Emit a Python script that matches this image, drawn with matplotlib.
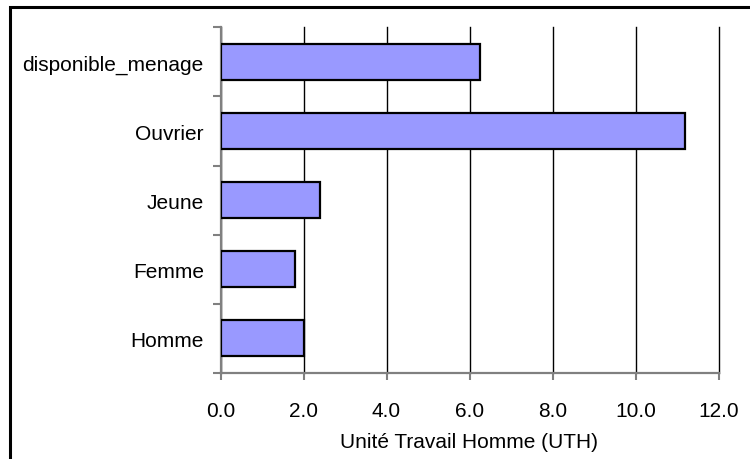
import matplotlib.pyplot as plt
from matplotlib.patches import Rectangle
from matplotlib.ticker import FixedLocator

plt.rcParams['font.family'] = ['Liberation Sans', 'DejaVu Sans']

categories = ['Homme', 'Femme', 'Jeune', 'Ouvrier', 'disponible_menage']
values = [2.0, 1.8, 2.4, 11.2, 6.25]
xticks = [0, 2, 4, 6, 8, 10, 12]
xlabel = 'Unité Travail Homme (UTH)'

W, H = 750, 460
fig = plt.figure(figsize=(W / 100, H / 100), dpi=100)
ax = fig.add_axes([220.5 / W, 1 - 374 / H, (718.5 - 220.5) / W, (374 - 28.3) / H])

# cadre autour du graphique
fig.patches.append(Rectangle((10 / W, -0.1), 1.2, 1 - 7.5 / H + 0.1,
                             transform=fig.transFigure, fill=False,
                             edgecolor='black', linewidth=2.2, clip_on=False))

pos = range(len(categories))
ax.barh(pos, values, height=0.52, color='#9999FF', edgecolor='black',
        linewidth=1.6, zorder=3)

ax.set_xlim(0, 12)
ax.set_ylim(-0.5, len(categories) - 0.5)

ax.set_xticks(xticks)
ax.set_xticklabels(['%.1f' % v for v in xticks], fontsize=15)
ax.xaxis.grid(True, color='black', linewidth=1.0, zorder=0)
for gl in ax.get_xgridlines():
    gl.set_clip_on(False)

# ticks aux limites des catégories, libellés au centre
ax.yaxis.set_major_locator(FixedLocator([i - 0.5 for i in range(len(categories) + 1)]))
ax.yaxis.set_minor_locator(FixedLocator(list(pos)))
ax.set_yticklabels([], minor=False)
ax.set_yticklabels(categories, minor=True, fontsize=15)
ax.tick_params(axis='y', which='major', length=6, width=1.5, color='#808080', direction='out')
ax.tick_params(axis='y', which='minor', length=0, pad=12)
ax.tick_params(axis='x', length=5, width=1.5, color='#808080', direction='out', pad=15)

for s in ['top', 'right']:
    ax.spines[s].set_visible(False)
for s in ['left', 'bottom']:
    ax.spines[s].set_color('#808080')
    ax.spines[s].set_linewidth(1.6)

ax.set_xlabel(xlabel, fontsize=15, labelpad=9)

fig.savefig('out.png', dpi=100)
